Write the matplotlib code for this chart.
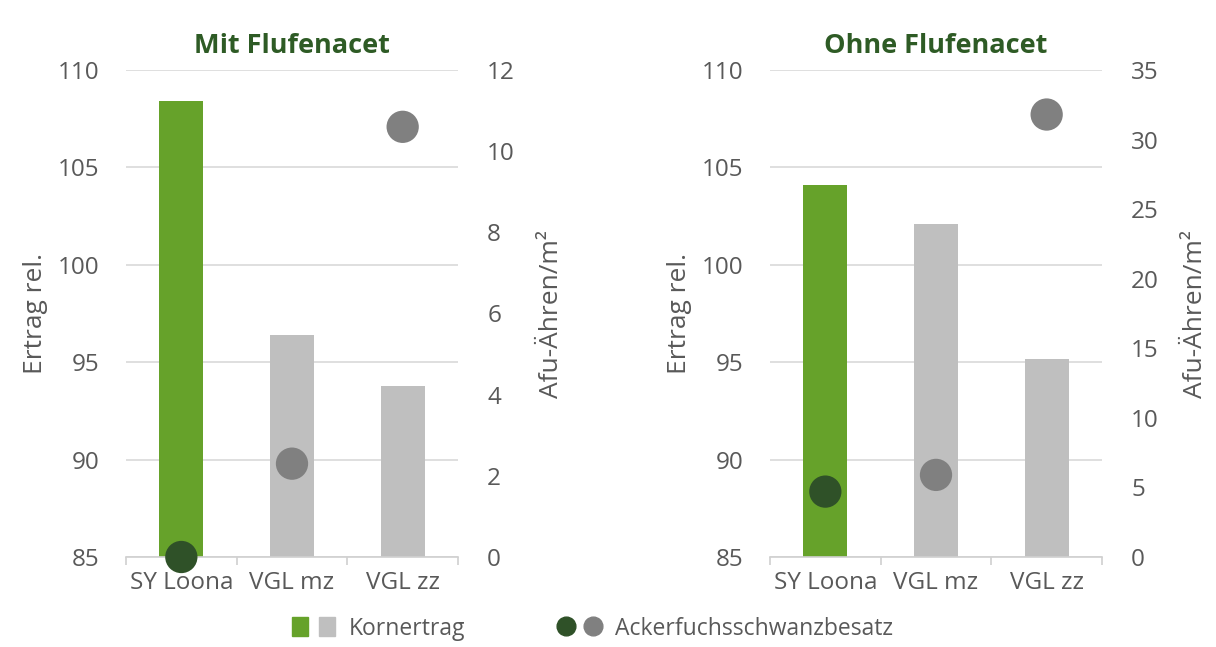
import matplotlib.pyplot as plt
from matplotlib.patches import Patch
from matplotlib.lines import Line2D
from matplotlib.legend_handler import HandlerTuple

plt.rcParams['font.family'] = ['Open Sans', 'DejaVu Sans']

# data
sorten = ['SY Loona', 'VGL mz', 'VGL zz']
titles = ['Mit Flufenacet', 'Ohne Flufenacet']
ertrag_mit = [108.4, 96.4, 93.8]
ertrag_ohne = [104.1, 102.1, 95.15]
afu_mit = [0.0, 2.3, 10.6]
afu_ohne = [4.7, 5.9, 31.8]
afu_ticks_mit = [0, 2, 4, 6, 8, 10, 12]
afu_ticks_ohne = [0, 5, 10, 15, 20, 25, 30, 35]
ertrag_ticks = [85, 90, 95, 100, 105, 110]

GREEN = '#66A22A'
GRAY_BAR = '#BFBFBF'
DARK = '#2F5128'
GRAY_DOT = '#808080'
TXT = '#595959'
TITLE = '#2E5B25'

fig = plt.figure(figsize=(12.16, 6.47), dpi=100)

panels = [
    (titles[0], ertrag_mit, afu_mit, afu_ticks_mit, [126 / 1216, 90 / 647, 332 / 1216, 487 / 647]),
    (titles[1], ertrag_ohne, afu_ohne, afu_ticks_ohne, [770 / 1216, 90 / 647, 332 / 1216, 487 / 647]),
]

for title, ertrag, afu, aticks, pos in panels:
    ax = fig.add_axes(pos)
    x = range(len(sorten))
    ax.bar(x, [e - 85 for e in ertrag], bottom=85, width=0.4,
           color=[GREEN, GRAY_BAR, GRAY_BAR], zorder=2)
    ax.set_ylim(85, 110)
    ax.set_xlim(-0.5, 2.5)
    ax.set_yticks(ertrag_ticks)
    ax.grid(axis='y', color='#D9D9D9', lw=1.2, zorder=0)
    for s in ['top', 'left', 'right']:
        ax.spines[s].set_visible(False)
    ax.spines['bottom'].set_color('#D0D0D0')
    ax.spines['bottom'].set_linewidth(1.2)
    ax.set_xticks(list(x))
    ax.set_xticklabels(sorten)
    ax.set_xticks([-0.5, 0.5, 1.5, 2.5], minor=True)
    ax.tick_params(axis='x', which='major', length=0, pad=10, labelsize=17.5, labelcolor=TXT)
    ax.tick_params(axis='x', which='minor', length=6, color='#D0D0D0', width=1.2)
    ax.tick_params(axis='y', length=0, pad=19, labelsize=17.5, labelcolor=TXT)
    ax.set_ylabel('Ertrag rel.', fontsize=19, color=TXT, labelpad=7)
    ax.set_title(title, fontsize=19.5, fontweight='bold', color=TITLE, pad=12)

    ax2 = ax.twinx()
    ax2.scatter(list(x), afu, s=540, color=[DARK, GRAY_DOT, GRAY_DOT],
                zorder=3, clip_on=False, linewidths=0)
    ax2.set_ylim(0, aticks[-1])
    ax2.set_yticks(aticks)
    for s in ['top', 'left', 'right', 'bottom']:
        ax2.spines[s].set_visible(False)
    ax2.tick_params(axis='y', length=0, pad=21, labelsize=17.5, labelcolor=TXT)
    ax2.set_ylabel('Afu-Ähren/m²', fontsize=19, color=TXT, labelpad=17)

h1 = (Patch(color=GREEN), Patch(color=GRAY_BAR))
h2 = (Line2D([], [], ls='', marker='o', ms=13.5, color=DARK),
      Line2D([], [], ls='', marker='o', ms=13.5, color=GRAY_DOT))
fig.legend([h1, h2], ['Kornertrag', 'Ackerfuchsschwanzbesatz'],
           handler_map={tuple: HandlerTuple(ndivide=None, pad=0.45)},
           loc='center', bbox_to_anchor=(0.487, 0.028), ncol=2, frameon=False,
           fontsize=16.5, labelcolor=TXT, handlelength=1.9, handleheight=0.9,
           columnspacing=4.0, handletextpad=0.6)

fig.savefig('out.png', dpi=100)
